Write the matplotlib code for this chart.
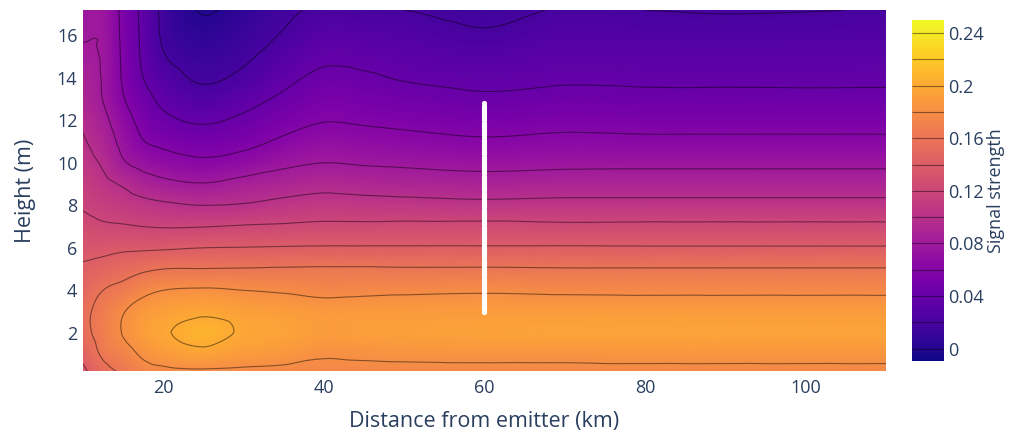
import numpy as np
import matplotlib.pyplot as plt
import matplotlib.tri as mtri
from matplotlib.colors import Normalize
from matplotlib.cm import ScalarMappable

plt.rcParams['font.family'] = ['Open Sans', 'DejaVu Sans']

# grid: one profile (heights bottom -> top) per distance
distance_km = [10, 12.5, 15, 17.5, 20, 25, 30, 35, 40, 45, 50, 60, 70, 80, 90, 100, 110]
height_m = [0.2, 1, 2, 3, 4, 5, 6, 7, 8, 9, 10, 11, 12, 13, 14, 15, 16, 17.2]

signal = [
    [0.136, 0.145, 0.154, 0.155, 0.150, 0.143, 0.134, 0.126, 0.118, 0.113, 0.107, 0.102, 0.097, 0.092, 0.088, 0.083, 0.079, 0.0765],
    [0.154, 0.163, 0.168, 0.167, 0.160, 0.147, 0.135, 0.1225, 0.113, 0.105, 0.0975, 0.091, 0.085, 0.0795, 0.0785, 0.078, 0.0775, 0.077],
    [0.163, 0.172, 0.181, 0.179, 0.166, 0.152, 0.137, 0.1216, 0.110, 0.098, 0.082, 0.0742, 0.068, 0.0613, 0.058, 0.057, 0.056, 0.055],
    [0.173, 0.183, 0.192, 0.188, 0.175, 0.157, 0.1374, 0.120, 0.106, 0.0895, 0.0736, 0.0608, 0.0536, 0.0468, 0.040, 0.037, 0.036, 0.035],
    [0.176, 0.189, 0.198, 0.193, 0.180, 0.160, 0.138, 0.119, 0.1032, 0.0848, 0.0689, 0.0556, 0.0444, 0.0357, 0.0286, 0.0214, 0.0175, 0.016],
    [0.178, 0.195, 0.206, 0.197, 0.182, 0.1605, 0.140, 0.1196, 0.100, 0.081, 0.0638, 0.0501, 0.0378, 0.0267, 0.0176, 0.0118, 0.0059, -0.0012],
    [0.177, 0.190, 0.198, 0.193, 0.180, 0.161, 0.1406, 0.1214, 0.1015, 0.0862, 0.0686, 0.0542, 0.0437, 0.0337, 0.0239, 0.0172, 0.0126, 0.007],
    [0.176, 0.187, 0.195, 0.191, 0.178, 0.1617, 0.1413, 0.1225, 0.1058, 0.0904, 0.0761, 0.0632, 0.0529, 0.0433, 0.0354, 0.0284, 0.0214, 0.017],
    [0.175, 0.182, 0.191, 0.188, 0.175, 0.162, 0.1417, 0.124, 0.1087, 0.094, 0.080, 0.0695, 0.0592, 0.0515, 0.0438, 0.0367, 0.030, 0.022],
    [0.175, 0.183, 0.192, 0.189, 0.176, 0.162, 0.1417, 0.124, 0.1075, 0.0921, 0.0784, 0.0676, 0.0577, 0.050, 0.0423, 0.0357, 0.029, 0.021],
    [0.175, 0.184, 0.193, 0.189, 0.177, 0.1615, 0.1417, 0.1247, 0.1065, 0.0907, 0.0771, 0.0657, 0.0557, 0.047, 0.0388, 0.0329, 0.027, 0.020],
    [0.175, 0.185, 0.194, 0.190, 0.178, 0.1616, 0.1417, 0.125, 0.105, 0.0885, 0.0746, 0.0624, 0.0522, 0.0428, 0.0355, 0.0285, 0.0219, 0.016],
    [0.175, 0.185, 0.195, 0.190, 0.177, 0.161, 0.1418, 0.1236, 0.106, 0.0899, 0.076, 0.0646, 0.0544, 0.0451, 0.0377, 0.0325, 0.0272, 0.021],
    [0.175, 0.186, 0.195, 0.190, 0.1765, 0.161, 0.1415, 0.124, 0.106, 0.090, 0.0763, 0.0638, 0.0535, 0.0442, 0.0372, 0.0318, 0.0262, 0.020],
    [0.175, 0.186, 0.195, 0.190, 0.1765, 0.161, 0.1415, 0.124, 0.106, 0.090, 0.0763, 0.0638, 0.0535, 0.0443, 0.037, 0.0314, 0.0256, 0.019],
    [0.175, 0.186, 0.195, 0.190, 0.1765, 0.161, 0.1415, 0.124, 0.106, 0.090, 0.0763, 0.0638, 0.0535, 0.044, 0.037, 0.0316, 0.026, 0.0195],
    [0.175, 0.186, 0.195, 0.190, 0.1765, 0.161, 0.1415, 0.124, 0.106, 0.090, 0.0763, 0.0638, 0.0535, 0.044, 0.0372, 0.032, 0.0265, 0.0205],
]

# white probe column
probe_distance = 60
probe_heights = np.round(np.arange(3.0, 12.81, 0.1), 1)

levels = [0, 0.02, 0.04, 0.06, 0.08, 0.1, 0.12, 0.14, 0.16, 0.18, 0.2, 0.22, 0.24]
cbar_ticks = [0, 0.04, 0.08, 0.12, 0.16, 0.2, 0.24]
cbar_labels = ['0', '0.04', '0.08', '0.12', '0.16', '0.2', '0.24']

txt = '#2a3f5f'

X, Y = np.meshgrid(distance_km, height_m, indexing='ij')
Z = np.array(signal)
nx, ny = Z.shape
tris = []
for i in range(nx - 1):
    for j in range(ny - 1):
        a = i * ny + j
        b = (i + 1) * ny + j
        tris.append([a, b, b + 1])
        tris.append([a, b + 1, a + 1])
tri = mtri.Triangulation(X.ravel(), Y.ravel(), tris)
interp = mtri.CubicTriInterpolator(tri, Z.ravel(), kind='geom')
tri_f, z_f = mtri.UniformTriRefiner(tri).refine_field(Z.ravel(), triinterpolator=interp, subdiv=4)

norm = Normalize(vmin=-0.0095, vmax=0.25)

fig = plt.figure(figsize=(10.1, 4.34), dpi=100)
ax = fig.add_axes([0.0822, 0.1452, 0.795, 0.8318])
ax.tripcolor(tri_f, z_f, shading='gouraud', cmap='plasma', norm=norm)
ax.tricontour(tri_f, z_f, levels=levels, colors='black', linewidths=0.8, alpha=0.45)
ax.scatter([probe_distance] * len(probe_heights), probe_heights, s=14, color='white',
           linewidths=0, zorder=3)

ax.set_xlim(10, 110)
ax.set_ylim(0.2, 17.2)
ax.set_xticks([20, 40, 60, 80, 100])
ax.set_yticks([2, 4, 6, 8, 10, 12, 14, 16])
for s in ax.spines.values():
    s.set_visible(False)
ax.tick_params(length=0, labelsize=13, colors=txt)
ax.tick_params(axis='x', pad=6)
ax.tick_params(axis='y', pad=4)
ax.set_xlabel('Distance from emitter (km)', fontsize=15.5, color=txt)
ax.set_ylabel('Height (m)', fontsize=15.5, color=txt)
ax.xaxis.set_label_coords(0.5, -0.11)
ax.yaxis.set_label_coords(-0.058, 0.5)

cax = fig.add_axes([0.903, 0.168, 0.0317, 0.786])
cb = fig.colorbar(ScalarMappable(norm=norm, cmap='plasma'), cax=cax)
cb.outline.set_visible(False)
cax.hlines(levels, 0, 1, colors='black', linewidths=0.8, alpha=0.45)
cb.set_ticks(cbar_ticks)
cb.set_ticklabels(cbar_labels)
cax.tick_params(length=0, labelsize=13, colors=txt, pad=3)
cb.set_label('Signal strength', fontsize=13, color=txt, labelpad=2)

fig.savefig('out.png', dpi=100)
